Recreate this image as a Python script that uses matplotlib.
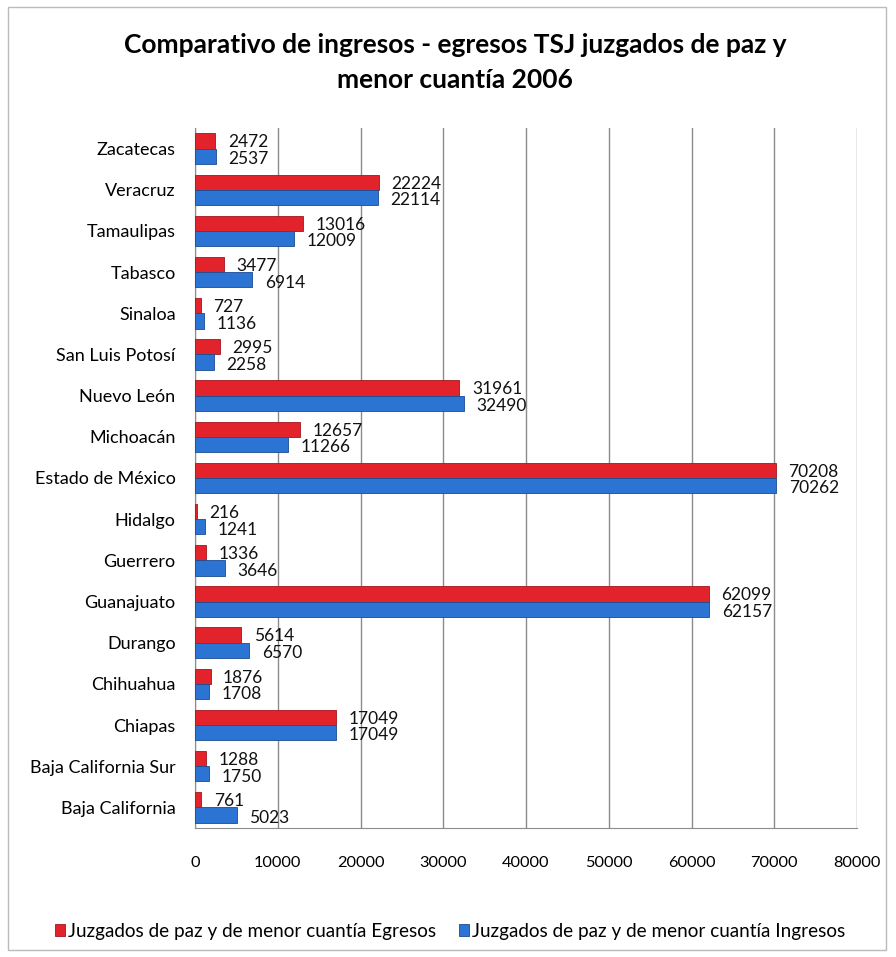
import matplotlib
matplotlib.use("Agg")
import matplotlib.pyplot as plt
from matplotlib.patches import Rectangle
import numpy as np

plt.rcParams['font.family'] = ['Lato', 'DejaVu Sans']

categories = ["Baja California", "Baja California Sur", "Chiapas", "Chihuahua", "Durango",
              "Guanajuato", "Guerrero", "Hidalgo", "Estado de México", "Michoacán",
              "Nuevo León", "San Luis Potosí", "Sinaloa", "Tabasco", "Tamaulipas",
              "Veracruz", "Zacatecas"]
egresos = [761, 1288, 17049, 1876, 5614, 62099, 1336, 216, 70208, 12657,
           31961, 2995, 727, 3477, 13016, 22224, 2472]
ingresos = [5023, 1750, 17049, 1708, 6570, 62157, 3646, 1241, 70262, 11266,
            32490, 2258, 1136, 6914, 12009, 22114, 2537]
xticks = [0, 10000, 20000, 30000, 40000, 50000, 60000, 70000, 80000]

red = "#E3232C"
blue = "#2B74D3"

fig = plt.figure(figsize=(8.96, 9.57), dpi=100)
ax = fig.add_axes([195/896, 1-828/957, (857-195)/896, (828-128)/957])

y = np.arange(len(categories))
h = 0.37
ax.barh(y + h/2, egresos, height=h, color=red, edgecolor="#A3161D", linewidth=0.6,
        label="Juzgados de paz y de menor cuantía Egresos", zorder=3)
ax.barh(y - h/2, ingresos, height=h, color=blue, edgecolor="#1A4C93", linewidth=0.6,
        label="Juzgados de paz y de menor cuantía Ingresos", zorder=3)

for yi, e, i in zip(y, egresos, ingresos):
    ax.annotate(f"{e}", (e, yi + h/2), xytext=(9, -1), textcoords="offset points",
                ha="left", va="center", fontsize=12.5, color="#111111", zorder=4)
    ax.annotate(f"{i}", (i, yi - h/2), xytext=(9, -2), textcoords="offset points",
                ha="left", va="center", fontsize=12.5, color="#111111", zorder=4)

ax.set_xlim(0, 80000)
ax.set_ylim(-0.5, len(categories) - 0.5)
ax.set_xticks(xticks)
ax.set_xticklabels([str(t) for t in xticks], fontsize=11.8)
ax.set_yticks(y)
ax.set_yticklabels(categories, fontsize=13)
ax.tick_params(axis='both', length=0)
ax.tick_params(axis='x', pad=20)
ax.tick_params(axis='y', pad=14)
ax.grid(axis='x', color="#8C8C8C", linewidth=1.0, zorder=0)
for s in ["top", "right"]:
    ax.spines[s].set_visible(False)
ax.spines["left"].set_color("#8C8C8C")
ax.spines["bottom"].set_color("#8C8C8C")

fig.text(455/896, 1-45/957, "Comparativo de ingresos - egresos TSJ juzgados de paz y",
         ha="center", va="center", fontsize=19, fontweight="bold")
fig.text(455/896, 1-80/957, "menor cuantía 2006",
         ha="center", va="center", fontsize=19, fontweight="bold")

fig.legend(loc="center", bbox_to_anchor=(450/896, 1-931/957), ncol=2, frameon=False,
           fontsize=13.6, handlelength=0.55, handleheight=0.55, handletextpad=0.15,
           columnspacing=1.2)

fig.patches.append(Rectangle((8/896, 1-950/957), 878/896, 943/957, transform=fig.transFigure,
                             fill=False, edgecolor="#BBBBBB", linewidth=1.0))

fig.savefig("out.png", dpi=100)
